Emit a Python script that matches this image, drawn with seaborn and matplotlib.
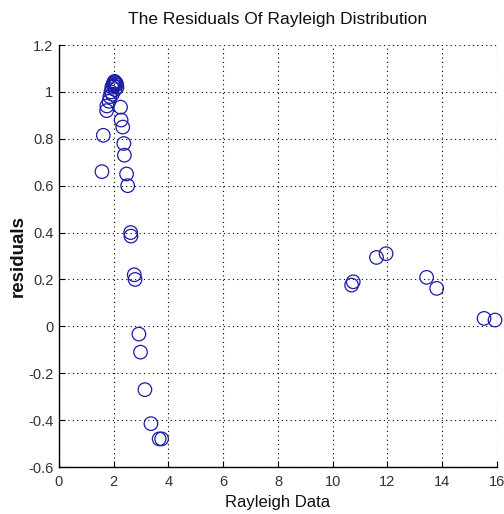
import matplotlib
matplotlib.use("Agg")
import matplotlib.pyplot as plt
import seaborn as sns
import pandas as pd
from matplotlib.ticker import FormatStrFormatter

# Rayleigh sample values and their residuals
rayleigh_data = [
    1.57, 1.62, 1.74, 1.75, 1.83, 1.86, 1.90, 1.93, 1.95, 1.97, 2.00, 2.00,
    2.03, 2.05, 2.06, 2.09, 2.10, 2.12, 2.25, 2.27, 2.33, 2.37, 2.39, 2.47,
    2.51, 2.62, 2.63, 2.75, 2.78, 2.92, 2.98, 3.14, 3.36, 3.66, 3.75,
    10.69, 10.75, 11.60, 11.95, 13.43, 13.80, 15.53, 15.93,
]
residuals = [
    0.66, 0.815, 0.92, 0.94, 0.96, 0.98, 1.00, 1.02, 0.99, 1.03, 1.04, 1.025,
    1.045, 1.01, 1.04, 1.03, 1.035, 1.02, 0.935, 0.88, 0.85, 0.78, 0.73, 0.65,
    0.60, 0.40, 0.385, 0.22, 0.20, -0.033, -0.11, -0.27, -0.415, -0.48, -0.48,
    0.176, 0.19, 0.294, 0.31, 0.209, 0.162, 0.034, 0.027,
]

x_ticks = [0, 2, 4, 6, 8, 10, 12, 14, 16]
y_ticks = [-0.6, -0.4, -0.2, 0, 0.2, 0.4, 0.6, 0.8, 1.0, 1.2]

df = pd.DataFrame({"Rayleigh Data": rayleigh_data, "residuals": residuals})

sns.set_style("white")
plt.rcParams["font.family"] = ["Liberation Sans", "DejaVu Sans"]

fig = plt.figure(figsize=(5.04, 5.14), dpi=100)
ax = fig.add_axes([0.117, 0.0914, 0.869, 0.821])

sns.scatterplot(
    data=df, x="Rayleigh Data", y="residuals", ax=ax,
    marker="o", s=95, facecolors="none", edgecolors="#1c1ca6",
    linewidths=0.9, zorder=3, clip_on=False,
)

ax.set_xlim(0, 16)
ax.set_ylim(-0.6, 1.2)
ax.set_xticks(x_ticks)
ax.set_yticks(y_ticks)
ax.yaxis.set_major_formatter(FormatStrFormatter("%g"))
ax.grid(True, color="black", linestyle=(0, (1, 3)), linewidth=0.8)

for side in ("top", "right"):
    ax.spines[side].set_visible(False)
for side in ("left", "bottom"):
    ax.spines[side].set_color("black")
    ax.spines[side].set_linewidth(1.0)

ax.tick_params(direction="in", length=4, width=0.8, color="black",
               labelsize=10.5, labelcolor="#333333", left=True, bottom=True)
ax.tick_params(axis="x", pad=6)
ax.tick_params(axis="y", pad=4)

ax.set_xlabel("Rayleigh Data", fontsize=12, color="#111111", labelpad=4)
ax.set_ylabel("residuals", fontsize=13.5, fontweight="bold", color="#111111")
ax.yaxis.set_label_coords(-0.073, 0.5)
ax.set_title("The Residuals Of Rayleigh Distribution", fontsize=12.5,
             color="#111111", pad=15)

fig.savefig("out.png", dpi=100)
